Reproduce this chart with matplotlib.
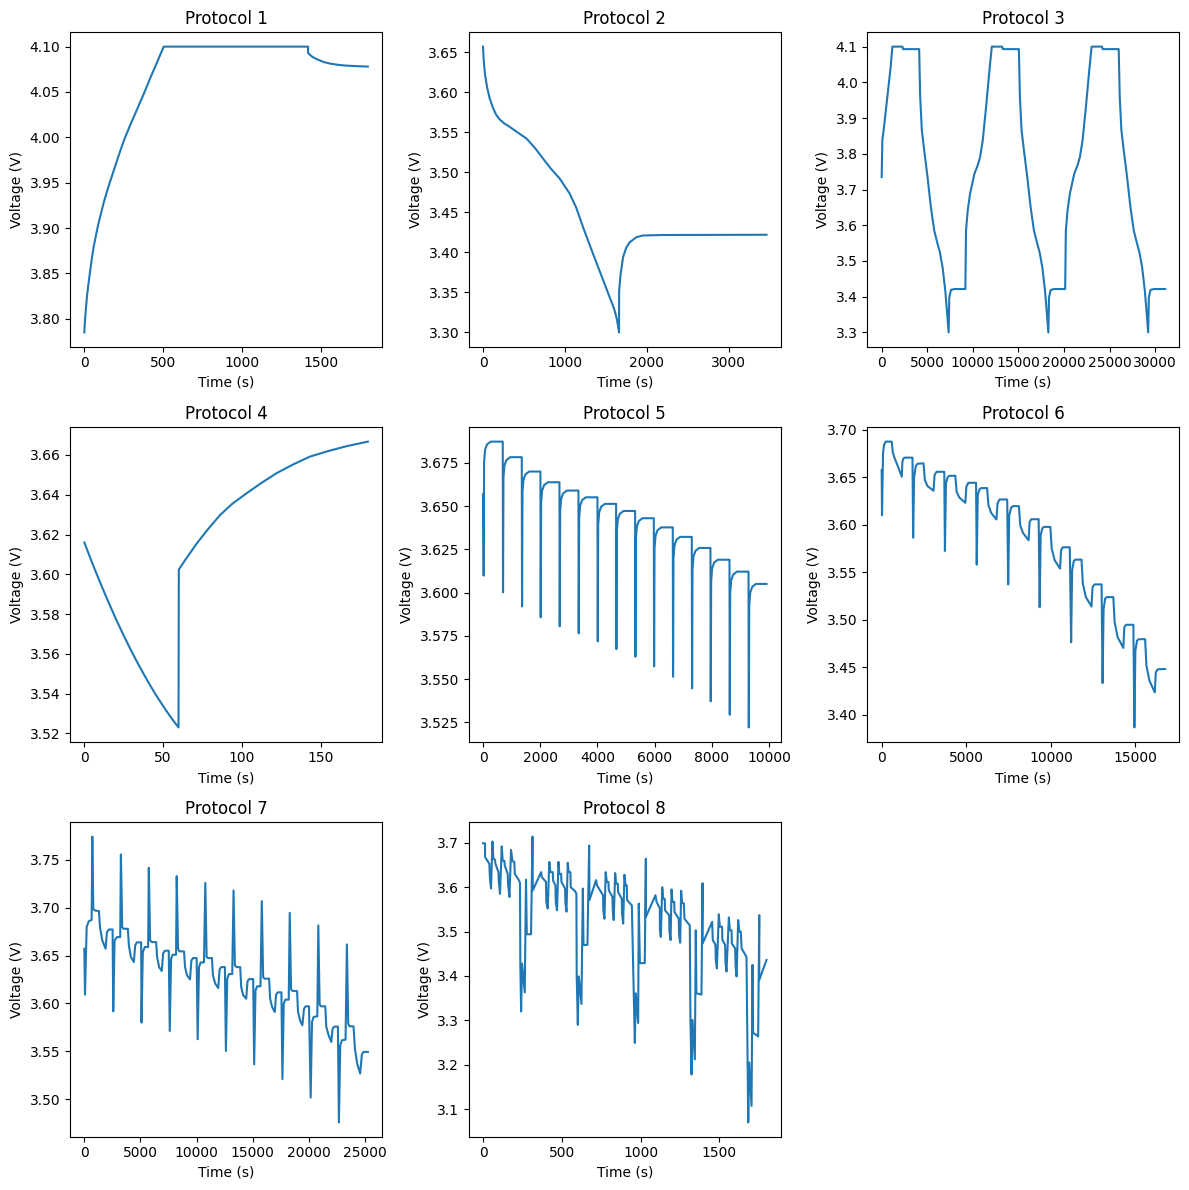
import matplotlib
matplotlib.use("Agg")
import matplotlib.pyplot as plt

# Protocol 1: CC charge, CV hold, rest
p1_time = [0, 3, 6, 10, 17, 25, 38, 48, 59, 75, 91, 107, 123, 150, 186, 220, 250, 290, 335, 380, 420, 460, 504,
           1420, 1421, 1435, 1450, 1478, 1520, 1563, 1620, 1669, 1730, 1800]
p1_volt = [3.785, 3.795, 3.8025, 3.811, 3.825, 3.837, 3.854, 3.867, 3.879, 3.893, 3.906, 3.917, 3.928, 3.944,
           3.963, 3.981, 3.996, 4.013, 4.031, 4.049, 4.066, 4.082, 4.100,
           4.100, 4.093, 4.0905, 4.0885, 4.086, 4.083, 4.0812, 4.0797, 4.079, 4.0785, 4.078]

# Protocol 2: discharge then rest
p2_time = [0, 10, 25, 50, 80, 120, 160, 204, 260, 326, 420, 530, 630, 733, 830, 937, 1059, 1140, 1222, 1344,
           1450, 1548, 1600, 1630, 1650, 1662, 1663, 1680, 1711, 1750, 1793, 1875, 1955, 2200, 3463]
p2_volt = [3.657, 3.638, 3.622, 3.606, 3.593, 3.581, 3.572, 3.566, 3.561, 3.5568, 3.550, 3.5423, 3.531, 3.5172,
           3.5045, 3.4922, 3.4734, 3.4555, 3.4315, 3.3982, 3.370, 3.3438, 3.330, 3.3188, 3.308, 3.300, 3.352,
           3.372, 3.394, 3.406, 3.4127, 3.419, 3.4211, 3.4217, 3.422]

# Protocol 3: three charge / discharge cycles
p3_time = [0, 40, 73, 257, 624, 991, 1175, 2277, 2350, 4113,
           4223, 4406, 4663, 5030, 5398, 5765, 6132, 6389, 6683, 6977, 7160, 7344, 7418, 7601, 7968, 9180,
           9253, 9437, 9694, 10171, 10539, 10796, 11090, 11457, 11824, 12081, 13220, 13293, 15053,
           15163, 15346, 15603, 15970, 16338, 16705, 17072, 17329, 17623, 17917, 18100, 18284, 18358, 18541, 18908, 20130,
           20203, 20387, 20644, 21121, 21489, 21746, 22040, 22407, 22774, 23031, 24170, 24243, 26003,
           26113, 26296, 26553, 26920, 27288, 27655, 28022, 28279, 28573, 28867, 29050, 29234, 29308, 29491, 29858, 31100]
p3_volt = [3.735, 3.79, 3.838, 3.875, 3.960, 4.044, 4.100, 4.100, 4.093, 4.093,
           3.960, 3.866, 3.810, 3.735, 3.651, 3.585, 3.548, 3.524, 3.482, 3.417, 3.361, 3.300, 3.398, 3.419, 3.4215, 3.4215,
           3.585, 3.641, 3.688, 3.744, 3.768, 3.791, 3.838, 3.932, 4.034, 4.100, 4.100, 4.093, 4.093,
           3.960, 3.866, 3.810, 3.735, 3.651, 3.585, 3.548, 3.524, 3.482, 3.417, 3.361, 3.300, 3.398, 3.419, 3.4215, 3.4215,
           3.585, 3.641, 3.688, 3.744, 3.768, 3.791, 3.838, 3.932, 4.034, 4.100, 4.100, 4.093, 4.093,
           3.960, 3.866, 3.810, 3.735, 3.651, 3.585, 3.548, 3.524, 3.482, 3.417, 3.361, 3.300, 3.398, 3.419, 3.4215, 3.4215]

# Protocol 4: discharge pulse then relaxation
p4_time = [0, 5, 10, 15, 20, 25, 30, 35, 40, 45, 50, 55, 59.8,
           60, 65, 71.4, 78, 86.2, 94, 103, 112, 122, 132, 143, 155, 167, 180]
p4_volt = [3.616, 3.6057, 3.5959, 3.5866, 3.5776, 3.5692, 3.5612, 3.5537, 3.5466, 3.5399, 3.5338, 3.528, 3.523,
           3.6024, 3.6083, 3.6155, 3.6222, 3.6298, 3.6355, 3.6407, 3.6457, 3.6508, 3.655, 3.6591, 3.662, 3.6645, 3.6667]

# Protocol 5: GITT-like pulses
p5_time = [0,
           24, 39, 74, 144, 274, 690,
           700, 715, 750, 820, 950, 1355,
           1365, 1380, 1415, 1485, 1615, 2007,
           2017, 2032, 2067, 2137, 2267, 2672,
           2682, 2697, 2732, 2802, 2932, 3336,
           3346, 3361, 3396, 3466, 3596, 4001,
           4011, 4026, 4061, 4131, 4261, 4652,
           4662, 4677, 4712, 4782, 4912, 5317,
           5327, 5342, 5377, 5447, 5577, 5970,
           5980, 5995, 6030, 6100, 6230, 6633,
           6643, 6658, 6693, 6763, 6893, 7298,
           7308, 7323, 7358, 7428, 7558, 7950,
           7960, 7975, 8010, 8080, 8210, 8615,
           8625, 8640, 8675, 8745, 8875, 9280,
           9290, 9305, 9340, 9410, 9540, 9909]
p5_volt = [3.657,
           3.6098, 3.6757, 3.6827, 3.6858, 3.6873, 3.6873,
           3.6001, 3.6666, 3.6736, 3.6767, 3.6783, 3.6783,
           3.5920, 3.6583, 3.6653, 3.6684, 3.6700, 3.6700,
           3.5857, 3.6521, 3.6591, 3.6622, 3.6638, 3.6638,
           3.5805, 3.6472, 3.6543, 3.6574, 3.6590, 3.6590,
           3.5764, 3.6433, 3.6504, 3.6535, 3.6551, 3.6551,
           3.5718, 3.6394, 3.6465, 3.6497, 3.6513, 3.6513,
           3.5673, 3.6352, 3.6424, 3.6456, 3.6472, 3.6472,
           3.5629, 3.6310, 3.6382, 3.6414, 3.6430, 3.6430,
           3.5573, 3.6256, 3.6329, 3.6361, 3.6377, 3.6377,
           3.5513, 3.6201, 3.6273, 3.6306, 3.6322, 3.6322,
           3.5446, 3.6136, 3.6209, 3.6242, 3.6258, 3.6258,
           3.5371, 3.6067, 3.6141, 3.6174, 3.6190, 3.6190,
           3.5293, 3.5997, 3.6071, 3.6104, 3.6121, 3.6121,
           3.5220, 3.5926, 3.6000, 3.6033, 3.6050, 3.6050]

# Protocol 6: pulse + slow discharge steps
p6_time = [0, 20, 79, 138, 237, 593, 653, 732, 930, 1187, 1226, 1286, 1365, 1820,
           1859, 1919, 2018, 2116, 2473, 2552, 2710, 3066, 3125, 3244, 3699,
           3738, 3798, 3897, 3996, 4352, 4431, 4589, 4945, 5004, 5123, 5578,
           5618, 5677, 5776, 5875, 6231, 6310, 6468, 6785, 6844, 6963, 7418,
           7477, 7536, 7655, 7754, 8110, 8189, 8347, 8683, 8743, 8842, 9277,
           9336, 9396, 9494, 9593, 9969, 10048, 10226, 10543, 10602, 10701, 11116,
           11196, 11255, 11354, 11453, 11809, 11888, 12066, 12402, 12461, 12580, 12995,
           13055, 13114, 13213, 13312, 13688, 13767, 13945, 14281, 14341, 14439, 14875,
           14934, 14993, 15092, 15191, 15567, 15646, 15824, 16140, 16200, 16319, 16754]
p6_volt = [3.6577, 3.6101, 3.6753, 3.6841, 3.6877, 3.6877, 3.6771, 3.6718, 3.6630, 3.6507, 3.6665, 3.6700, 3.6708, 3.6708,
           3.5865, 3.6507, 3.6619, 3.6644, 3.6648, 3.6471, 3.6408, 3.6359, 3.6524, 3.6559, 3.6559,
           3.5724, 3.6436, 3.6500, 3.6517, 3.6517, 3.6348, 3.6288, 3.6232, 3.6401, 3.6443, 3.6443,
           3.5580, 3.6313, 3.6373, 3.6387, 3.6387, 3.6207, 3.6126, 3.6056, 3.6225, 3.6267, 3.6267,
           3.5372, 3.6101, 3.6182, 3.6197, 3.6197, 3.5996, 3.5915, 3.5837, 3.6031, 3.6059, 3.6059,
           3.5132, 3.5890, 3.5964, 3.5978, 3.5978, 3.5749, 3.5626, 3.5538, 3.5731, 3.5763, 3.5763,
           3.4762, 3.5520, 3.5619, 3.5633, 3.5633, 3.5379, 3.5238, 3.5139, 3.5344, 3.5372, 3.5372,
           3.4332, 3.5115, 3.5224, 3.5238, 3.5238, 3.4974, 3.4815, 3.4702, 3.4921, 3.4946, 3.4946,
           3.3864, 3.4674, 3.4780, 3.4794, 3.4794, 3.4516, 3.4357, 3.4234, 3.4445, 3.4477, 3.4480]

# Protocol 7: discharge pulse, charge pulse, slow discharge
p7_time = [0, 59, 207, 385, 651, 710, 799, 947, 1302, 1391, 1598, 1894, 2012, 2190, 2515,
           2574, 2693, 2900, 3196, 3255, 3373, 3492, 3876, 3965, 4143, 4409, 4527, 4675, 5060,
           5089, 5208, 5385, 5681, 5740, 5859, 6007, 6391, 6480, 6658, 6894, 7013, 7161, 7516,
           7605, 7723, 7871, 8167, 8226, 8344, 8463, 8877, 8966, 9144, 9410, 9528, 9676, 10001,
           10090, 10209, 10357, 10652, 10771, 10889, 11008, 11363, 11451, 11659, 11925, 12043, 12191, 12516,
           12605, 12724, 12872, 13168, 13286, 13404, 13552, 13878, 13967, 14145, 14411, 14529, 14677, 15032,
           15120, 15239, 15387, 15683, 15801, 15920, 16038, 16452, 16541, 16719, 16955, 17074, 17222, 17547,
           17636, 17754, 17902, 18198, 18287, 18405, 18553, 18938, 19027, 19204, 19411, 19559, 19707, 20003,
           20151, 20269, 20417, 20743, 20832, 20950, 21069, 21453, 21542, 21749, 21986, 22104, 22252, 22578,
           22666, 22785, 22933, 23258, 23376, 23495, 23613, 23968, 24087, 24294, 24560, 24708, 24856, 25241]
p7_volt = [3.6572, 3.6092, 3.6798, 3.6857, 3.6874, 3.7743, 3.6989, 3.6971, 3.6965, 3.6798, 3.6659, 3.6572, 3.6746, 3.6773, 3.6773,
           3.5918, 3.6659, 3.6693, 3.6693, 3.7556, 3.6798, 3.6780, 3.6780, 3.6606, 3.6485, 3.6433, 3.6606, 3.6638, 3.6638,
           3.5800, 3.6537, 3.6589, 3.6589, 3.7417, 3.6659, 3.6641, 3.6641, 3.6485, 3.6380, 3.6339, 3.6520, 3.6551, 3.6551,
           3.5713, 3.6467, 3.6509, 3.6509, 3.7330, 3.6572, 3.6544, 3.6544, 3.6380, 3.6293, 3.6252, 3.6447, 3.6474, 3.6474,
           3.5626, 3.6380, 3.6429, 3.6429, 3.7260, 3.6485, 3.6474, 3.6474, 3.6293, 3.6207, 3.6161, 3.6356, 3.6380, 3.6380,
           3.5504, 3.6259, 3.6307, 3.6307, 3.7180, 3.6398, 3.6380, 3.6380, 3.6172, 3.6085, 3.6050, 3.6231, 3.6255, 3.6255,
           3.5365, 3.6137, 3.6179, 3.6179, 3.7069, 3.6276, 3.6259, 3.6259, 3.6050, 3.5963, 3.5911, 3.6092, 3.6116, 3.6116,
           3.5209, 3.5998, 3.6040, 3.6040, 3.6947, 3.6147, 3.6130, 3.6130, 3.5911, 3.5824, 3.5772, 3.5946, 3.5970, 3.5970,
           3.5017, 3.5807, 3.5859, 3.5866, 3.6815, 3.5988, 3.5970, 3.5970, 3.5755, 3.5668, 3.5598, 3.5737, 3.5758, 3.5758,
           3.4757, 3.5563, 3.5615, 3.5622, 3.6617, 3.5789, 3.5761, 3.5761, 3.5529, 3.5372, 3.5268, 3.5466, 3.5494, 3.5494]

# Protocol 8: drive-cycle style profile
p8_time = [0, 13, 13, 40, 45, 51, 60, 66, 76, 79, 98, 100, 108, 119, 125, 136, 138, 157, 159, 168, 178, 187,
           199, 202, 229, 235, 237, 242, 248, 265, 273, 278, 305, 314, 316, 369,
           373, 400, 402, 411, 421, 428, 443, 445, 460, 462, 470, 479, 485, 496, 498, 521, 523, 530, 538, 544,
           555, 557, 585, 593, 595, 602, 608, 625, 634, 638, 663, 674, 676, 718,
           724, 762, 764, 771, 779, 786, 796, 799, 822, 824, 830, 839, 845, 856, 858, 881, 883, 890, 898, 905,
           913, 915, 945, 957, 964, 970, 985, 989, 996, 1027, 1034, 1034, 1095,
           1102, 1123, 1123, 1129, 1138, 1144, 1154, 1156, 1182, 1184, 1191, 1197, 1203, 1214, 1216, 1243, 1245,
           1252, 1258, 1264, 1275, 1279, 1313, 1317, 1324, 1330, 1345, 1351, 1355, 1387, 1394, 1394, 1455,
           1459, 1476, 1478, 1485, 1497, 1504, 1518, 1520, 1537, 1540, 1546, 1561, 1567, 1578, 1580, 1601, 1604,
           1610, 1620, 1627, 1637, 1642, 1673, 1680, 1684, 1690, 1705, 1711, 1715, 1747, 1754, 1754, 1800]
p8_volt = [3.699, 3.699, 3.668, 3.653, 3.615, 3.597, 3.703, 3.664, 3.662, 3.653, 3.634, 3.615, 3.585, 3.692, 3.660, 3.659, 3.649, 3.630, 3.608, 3.578, 3.684, 3.659,
           3.657, 3.630, 3.615, 3.609, 3.428, 3.320, 3.428, 3.363, 3.617, 3.494, 3.494, 3.714, 3.593, 3.634,
           3.623, 3.612, 3.567, 3.552, 3.657, 3.634, 3.634, 3.615, 3.604, 3.567, 3.548, 3.657, 3.630, 3.630, 3.612, 3.597, 3.567, 3.545, 3.655, 3.634,
           3.634, 3.600, 3.591, 3.585, 3.399, 3.290, 3.399, 3.337, 3.597, 3.470, 3.470, 3.694, 3.571, 3.616,
           3.604, 3.582, 3.548, 3.529, 3.634, 3.612, 3.612, 3.593, 3.578, 3.548, 3.526, 3.632, 3.608, 3.608, 3.589, 3.574, 3.541, 3.518, 3.628, 3.604,
           3.604, 3.571, 3.559, 3.361, 3.249, 3.361, 3.294, 3.563, 3.429, 3.429, 3.664, 3.533, 3.582,
           3.567, 3.552, 3.507, 3.488, 3.600, 3.574, 3.574, 3.548, 3.537, 3.499, 3.481, 3.595, 3.567, 3.567, 3.544, 3.529, 3.492,
           3.475, 3.592, 3.564, 3.564, 3.529, 3.514, 3.301, 3.178, 3.301, 3.212, 3.503, 3.361, 3.358, 3.609, 3.473, 3.522,
           3.481, 3.470, 3.436, 3.417, 3.539, 3.511, 3.511, 3.481, 3.470, 3.429, 3.410, 3.532, 3.503, 3.503, 3.473, 3.462, 3.421,
           3.399, 3.526, 3.500, 3.500, 3.462, 3.443, 3.212, 3.070, 3.205, 3.107, 3.425, 3.272, 3.264, 3.537, 3.391, 3.436]

protocols = [
    (p1_time, p1_volt), (p2_time, p2_volt), (p3_time, p3_volt), (p4_time, p4_volt),
    (p5_time, p5_volt), (p6_time, p6_volt), (p7_time, p7_volt), (p8_time, p8_volt),
]

fig, axes = plt.subplots(3, 3, figsize=(12, 12), dpi=100)
axes = axes.flatten()

for i, (t, v) in enumerate(protocols):
    ax = axes[i]
    ax.plot(t, v)
    ax.set_title(f'Protocol {i + 1}')
    ax.set_xlabel('Time (s)')
    ax.set_ylabel('Voltage (V)')

# only 8 protocols, drop the last panel
fig.delaxes(axes[8])

plt.tight_layout()
plt.savefig('out.png', dpi=100, bbox_inches='tight')
